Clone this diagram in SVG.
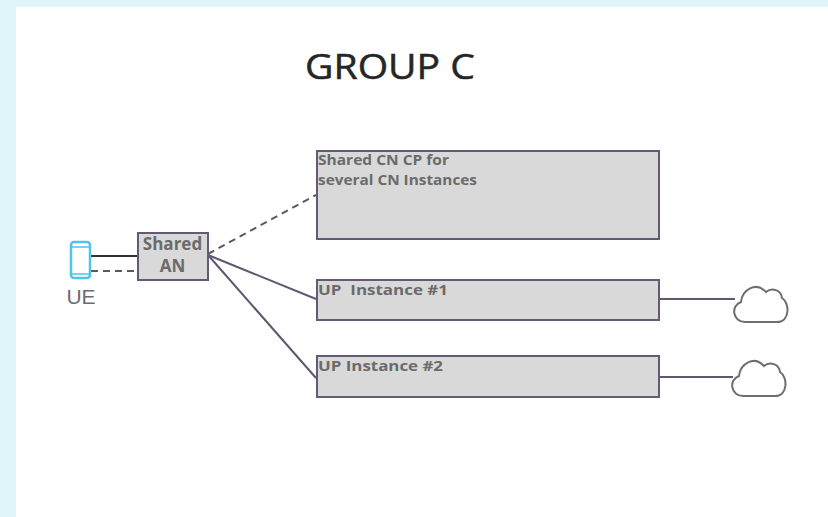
<svg xmlns="http://www.w3.org/2000/svg" width="828" height="517" viewBox="0 0 828 517">
<style>
.box{fill:#d9d9d9;stroke:#645a78;stroke-width:2}
.lbl{font-family:"Open Sans","Noto Sans",sans-serif;font-size:15px;font-weight:700;fill:#6b6b6b}
.an{font-family:"Open Sans","Noto Sans",sans-serif;font-size:17px;font-weight:700;fill:#6b6b6b;text-anchor:middle}
.line{fill:none;stroke:#5f5870;stroke-width:2}
.dash{fill:none;stroke:#5a5a5a;stroke-width:2;stroke-dasharray:7 5}
.cloud{fill:#fff;stroke:#6e6e6e;stroke-width:2}
</style>
<rect width="828" height="517" fill="#dff5fa"/>
<rect x="16" y="7" width="812" height="510" fill="#fff"/>
<text id="title" x="390" y="79" font-family="'Open Sans','Noto Sans',sans-serif" font-size="35" font-weight="500" stroke="#262626" stroke-width="0.5" fill="#262626" text-anchor="middle" textLength="170" lengthAdjust="spacingAndGlyphs">GROUP C</text>
<g id="connectors">
<path class="line" style="stroke:#333" d="M91 256H138"/>
<path class="dash" d="M91 271H138"/>
<path class="dash" d="M208 254L316 195"/>
<path class="line" d="M208 255L316 299"/>
<path class="line" d="M208 255L316 378"/>
<path class="line" d="M659 299H735"/>
<path class="line" d="M659 377H733"/>
</g>
<g id="ue">
<rect x="71" y="242" width="19" height="36" rx="3" fill="#fff" stroke="#4fc3e8" stroke-width="2.5"/>
<path d="M71 247H90M71 274H90" stroke="#4fc3e8" stroke-width="1.5"/>
<text x="81" y="304" font-family="'Liberation Sans',sans-serif" font-size="21" fill="#6a6a72" text-anchor="middle">UE</text>
</g>
<g id="shared-an">
<rect class="box" x="138" y="233" width="70" height="47"/>
<text class="an" x="172.500" y="250">Shared</text>
<text class="an" x="172.500" y="272">AN</text>
</g>
<g id="cn-cp">
<rect class="box" x="317" y="151" width="342" height="88"/>
<text class="lbl" x="318" y="165" textLength="131" lengthAdjust="spacingAndGlyphs">Shared CN CP for</text>
<text class="lbl" x="318" y="185" textLength="159" lengthAdjust="spacingAndGlyphs">several CN Instances</text>
</g>
<g id="up1">
<rect class="box" x="317" y="280" width="342" height="40"/>
<text class="lbl" x="318" y="295" xml:space="preserve" textLength="130" lengthAdjust="spacingAndGlyphs">UP  Instance #1</text>
</g>
<g id="up2">
<rect class="box" x="317" y="356" width="342" height="41"/>
<text class="lbl" x="318" y="371" textLength="125" lengthAdjust="spacingAndGlyphs">UP Instance #2</text>
</g>
<g id="cloud1">
<path class="cloud" d="M745 322C733 322 730 306 741 302C742 290 756 281 766 292C772 287 781 290 782 298C790 303 790 322 777 322Z"/>
</g>
<g id="cloud2">
<path class="cloud" d="M743 396C731 396 728 380 739 376C740 364 754 355 764 366C770 361 779 364 780 372C788 377 788 396 775 396Z"/>
</g>
</svg>
